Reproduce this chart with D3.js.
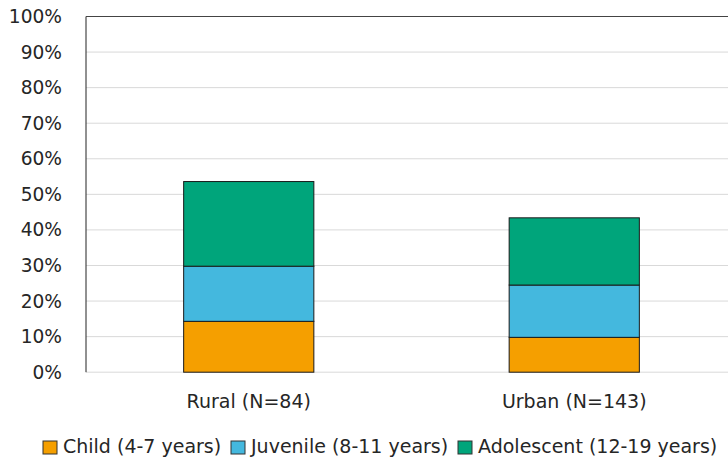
<!DOCTYPE html>
<html>
<head>
<meta charset="utf-8">
<script src="https://cdn.jsdelivr.net/npm/d3@7"></script>
<style>
  html, body { margin: 0; padding: 0; background: #fff; }
  svg { display: block; font-family: "DejaVu Sans", sans-serif; }
</style>
</head>
<body>
<svg id="chart" width="728" height="458"></svg>
<script>
// Share of each age group by setting (percent of N)
const categories = ["Rural (N=84)", "Urban (N=143)"];
const seriesNames = ["Child (4-7 years)", "Juvenile (8-11 years)", "Adolescent (12-19 years)"];
const child = [14.3, 9.8];
const juvenile = [15.5, 14.7];
const adolescent = [23.8, 18.9];
const yTicks = [0, 10, 20, 30, 40, 50, 60, 70, 80, 90, 100];
const colors = ["#f59f00", "#44b8de", "#00a57b"];

const svg = d3.select("#chart");
const margin = { left: 86, top: 16.5, right: -9, bottom: 86 };
const W = 728, H = 458;

const x = d3.scaleBand()
  .domain(categories)
  .range([margin.left, W - margin.right])
  .paddingInner(0.6)
  .paddingOuter(0.3);

const y = d3.scaleLinear()
  .domain([0, 100])
  .range([H - margin.bottom + 0.2, margin.top]);

// Gridlines
svg.append("g")
  .selectAll("line")
  .data(yTicks)
  .join("line")
  .attr("x1", margin.left)
  .attr("x2", W)
  .attr("y1", d => y(d))
  .attr("y2", d => y(d))
  .attr("stroke", "#d9d9d9")
  .attr("stroke-width", 1);

// Stacked bars
const rows = categories.map((c, i) => ({
  cat: c,
  [seriesNames[0]]: child[i],
  [seriesNames[1]]: juvenile[i],
  [seriesNames[2]]: adolescent[i]
}));
const stacked = d3.stack().keys(seriesNames)(rows);

svg.append("g")
  .selectAll("g")
  .data(stacked)
  .join("g")
  .attr("fill", (d, i) => colors[i])
  .selectAll("rect")
  .data(d => d)
  .join("rect")
  .attr("x", d => x(d.data.cat))
  .attr("width", x.bandwidth())
  .attr("y", d => y(d[1]))
  .attr("height", d => y(d[0]) - y(d[1]))
  .attr("stroke", "#1a1a1a")
  .attr("stroke-width", 1);

// Frame: left axis line and top border
svg.append("line")
  .attr("x1", margin.left).attr("x2", margin.left)
  .attr("y1", y(100)).attr("y2", y(0))
  .attr("stroke", "#222").attr("stroke-width", 1);
svg.append("line")
  .attr("x1", margin.left).attr("x2", W)
  .attr("y1", y(100)).attr("y2", y(100))
  .attr("stroke", "#444").attr("stroke-width", 1);

// Y axis labels
const yAxis = d3.axisLeft(y)
  .tickValues(yTicks)
  .tickFormat(d => d + "%")
  .tickSize(0)
  .tickPadding(24);
const gy = svg.append("g")
  .attr("transform", `translate(${margin.left},0)`)
  .call(yAxis);
gy.select(".domain").remove();
gy.selectAll("text")
  .attr("fill", "#262626")
  .style("font-size", "18.6px")
  .style("font-family", "DejaVu Sans, sans-serif");

// X axis labels
const xAxis = d3.axisBottom(x).tickSize(0).tickPadding(22);
const gx = svg.append("g")
  .attr("transform", `translate(0,${y(0)})`)
  .call(xAxis);
gx.select(".domain").remove();
gx.selectAll("text")
  .attr("fill", "#262626")
  .style("font-size", "19px")
  .style("font-family", "DejaVu Sans, sans-serif");

// Legend
const legendX = [43, 231, 458];
const legend = svg.append("g");
seriesNames.forEach((name, i) => {
  const g = legend.append("g").attr("transform", `translate(${legendX[i]},441)`);
  g.append("rect")
    .attr("width", 14).attr("height", 13)
    .attr("fill", colors[i])
    .attr("stroke", "#333").attr("stroke-width", 1);
  g.append("text")
    .attr("x", 20).attr("y", 12)
    .attr("fill", "#262626")
    .style("font-size", "19px")
    .text(name);
});
</script>
</body>
</html>
